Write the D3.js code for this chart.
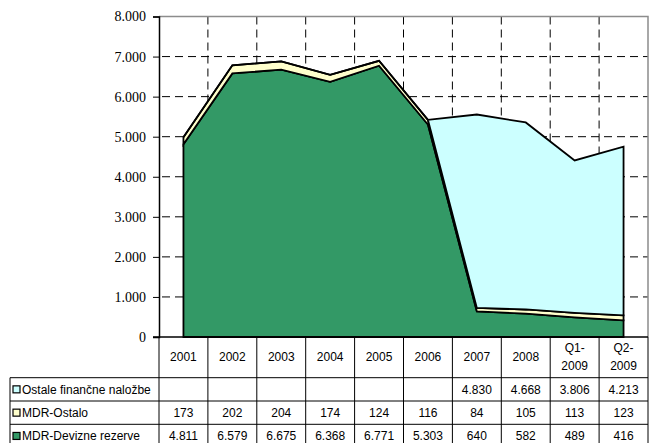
<!DOCTYPE html>
<html><head><meta charset="utf-8">
<script src="https://cdn.jsdelivr.net/npm/d3@7"></script>
<style>html,body{margin:0;padding:0;background:#fff;}svg{display:block;}
.tbl text{font-family:"Liberation Sans",Arial,sans-serif;font-size:12px;}
svg g.yax text{font-family:"Liberation Serif","Tinos","Times New Roman","DejaVu Serif",serif !important;font-size:14px !important;}
</style>
</head><body>
<svg id="chart" width="658" height="443"></svg>
<script>
const categories = ["2001","2002","2003","2004","2005","2006","2007","2008","Q1-2009","Q2-2009"];
const deviznaRezerve = [4811,6579,6675,6368,6771,5303,640,582,489,416];
const mdrOstalo = [173,202,204,174,124,116,84,105,113,123];
const ostaleNalozbe = [null,null,null,null,null,null,4830,4668,3806,4213];
const seriesNames = ["MDR-Devizne rezerve","MDR-Ostalo","Ostale finančne naložbe"];
const seriesColors = ["#339966","#FFFFCC","#CCFFFF"];
const yTicks = [0,1000,2000,3000,4000,5000,6000,7000,8000];

const svg = d3.select("#chart");
const loc = d3.formatLocale({decimal:",", thousands:".", grouping:[3], currency:["",""]});
const fmt = loc.format(",.0f");

const pLeft = 159, pRight = 648, pTop = 16.5, pBottom = 337;
const x = d3.scaleBand().domain(categories).range([pLeft, pRight]).padding(0);
const xc = c => x(c) + x.bandwidth()/2;
const y = d3.scaleLinear().domain([0,8000]).range([pBottom, pTop]);

const rowsData = categories.map((c,i)=>({cat:c, a:deviznaRezerve[i], b:mdrOstalo[i], c2:ostaleNalozbe[i]||0}));
const stacked = d3.stack().keys(["a","b","c2"])(rowsData);

// grid
const grid = svg.append("g");
grid.selectAll("line.h").data(yTicks.filter(t=>t>0 && t<8000)).join("line")
  .attr("x1", pLeft).attr("x2", pRight).attr("y1", d=>y(d)).attr("y2", d=>y(d))
  .attr("stroke","#000").attr("stroke-width",1).attr("stroke-dasharray","8,5").attr("stroke-dashoffset",-3);
grid.selectAll("line.v").data(categories.slice(1)).join("line")
  .attr("x1", d=>x(d)).attr("x2", d=>x(d)).attr("y1", pTop).attr("y2", pBottom)
  .attr("stroke","#000").attr("stroke-width",1).attr("stroke-dasharray","8,5");

// areas
const area = d3.area().x(d=>xc(d.data.cat)).y0(d=>y(d[0])).y1(d=>y(d[1]));
svg.append("g").selectAll("path").data(stacked).join("path")
  .attr("d", area)
  .attr("fill",(d,i)=>seriesColors[i])
  .attr("stroke","#000").attr("stroke-width",1.8).attr("stroke-linejoin","miter");

// border top/right
svg.append("path").attr("d",`M${pLeft},${pTop}H${pRight}V${pBottom}`)
  .attr("fill","none").attr("stroke","#8c8c8c").attr("stroke-width",1.5);

// y axis
const yAxis = svg.append("g").attr("class","yax").attr("transform",`translate(${pLeft},0)`)
  .call(d3.axisLeft(y).tickValues(yTicks).tickFormat(fmt).tickSize(6).tickPadding(7));
yAxis.attr("font-family","Liberation Serif").attr("font-size",14);
yAxis.select(".domain").attr("stroke","#000").attr("stroke-width",1.5);
yAxis.selectAll(".tick line").attr("stroke","#000");
yAxis.selectAll("text").attr("fill","#000").attr("font-family","Liberation Serif").attr("font-size",14);

// x axis line
svg.append("line").attr("x1",pLeft-6).attr("x2",pRight).attr("y1",pBottom).attr("y2",pBottom)
  .attr("stroke","#000").attr("stroke-width",1.5);

// table
const rowH = 23.3, headBottom = 377.7, tableLeft = 10;
const tbl = svg.append("g").attr("class","tbl").attr("fill","#000");
const lineAttr = s => s.attr("stroke","#000").attr("stroke-width",1);
const bounds = categories.map(c=>x(c)).concat([pRight]);
tbl.selectAll("line.vb").data(bounds).join("line")
  .attr("x1",d=>d).attr("x2",d=>d).attr("y1",pBottom).attr("y2",443).call(lineAttr);
tbl.append("line").attr("x1",tableLeft).attr("x2",tableLeft).attr("y1",headBottom).attr("y2",443).call(lineAttr);
[0,1,2].forEach(r=>{
  tbl.append("line").attr("x1",tableLeft).attr("x2",pRight)
    .attr("y1",headBottom + r*rowH).attr("y2",headBottom + r*rowH).call(lineAttr);
});
categories.forEach(c=>{
  const parts = c.includes("-") ? [c.split("-")[0]+"-", c.split("-")[1]] : [c];
  const t = tbl.append("text").attr("text-anchor","middle").attr("x",xc(c));
  if(parts.length===1){
    t.attr("y",(pBottom+headBottom)/2+4).text(c);
  } else {
    t.append("tspan").attr("x",xc(c)).attr("y",352).text(parts[0]);
    t.append("tspan").attr("x",xc(c)).attr("y",370).text(parts[1]);
  }
});
const tableRows = [
  {name:seriesNames[2], color:seriesColors[2], vals:ostaleNalozbe},
  {name:seriesNames[1], color:seriesColors[1], vals:mdrOstalo},
  {name:seriesNames[0], color:seriesColors[0], vals:deviznaRezerve}
];
tableRows.forEach((r,i)=>{
  const yc = headBottom + i*rowH + rowH/2;
  tbl.append("rect").attr("x",13).attr("y",yc-3.5).attr("width",7).attr("height",7)
    .attr("fill",r.color).attr("stroke","#000").attr("stroke-width",1.2);
  tbl.append("text").attr("x",22).attr("y",yc+4.5).text(r.name);
  r.vals.forEach((v,j)=>{
    if(v==null) return;
    tbl.append("text").attr("text-anchor","middle").attr("x",xc(categories[j])).attr("y",yc+4.5).text(fmt(v));
  });
});
</script>
</body></html>
